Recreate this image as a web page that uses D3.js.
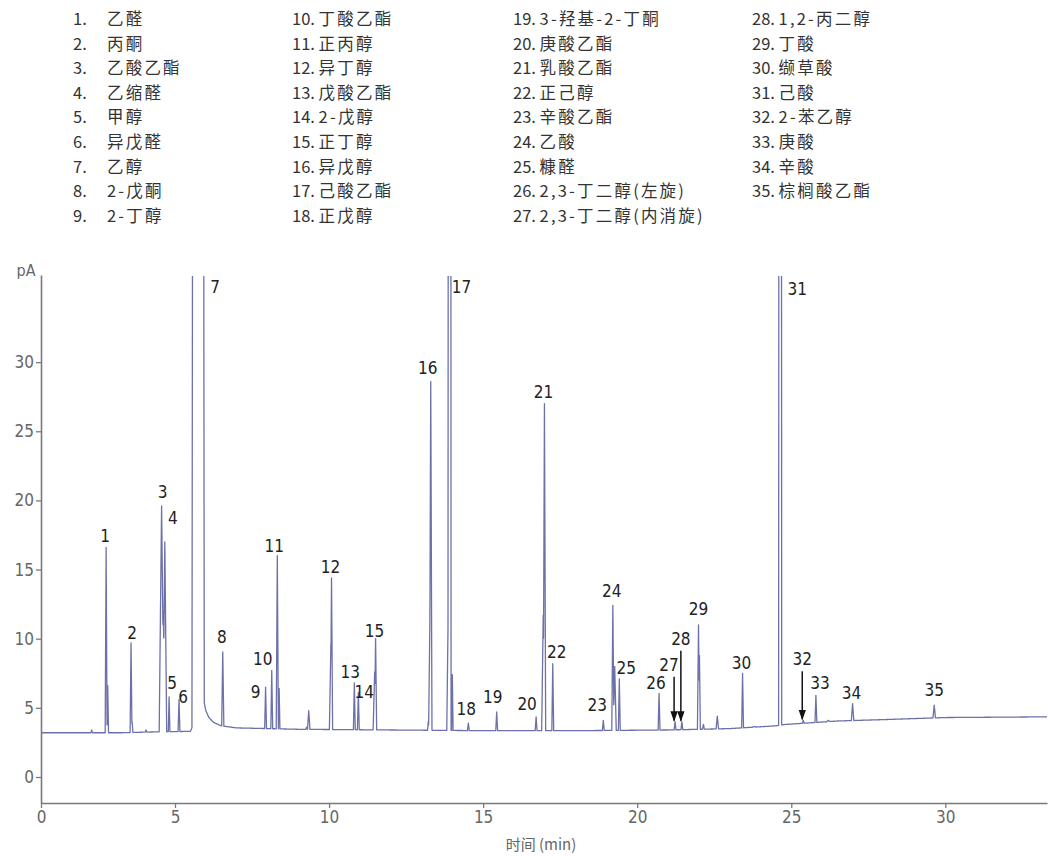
<!DOCTYPE html>
<html><head><meta charset="utf-8">
<script src="https://cdn.jsdelivr.net/npm/d3@7"></script>
<style>
html,body{margin:0;padding:0;background:#fff;}
svg{display:block;}
</style></head>
<body>
<svg id="chart" width="1048" height="856"></svg>
<script>
// ---------------- data ----------------
const compoundNames = ["乙醛","丙酮","乙酸乙酯","乙缩醛","甲醇","异戊醛","乙醇","2-戊酮","2-丁醇",
  "丁酸乙酯","正丙醇","异丁醇","戊酸乙酯","2-戊醇","正丁醇","异戊醇","己酸乙酯","正戊醇",
  "3-羟基-2-丁酮","庚酸乙酯","乳酸乙酯","正己醇","辛酸乙酯","乙酸","糠醛","2,3-丁二醇(左旋)","2,3-丁二醇(内消旋)",
  "1,2-丙二醇","丁酸","缬草酸","己酸","2-苯乙醇","庚酸","辛酸","棕榈酸乙酯"];
const peakNo = d3.range(1, 36);
// retention time (min)
const peakTime = [2.43,3.36,4.50,4.62,4.78,5.13,5.75,6.55,7.94,8.14,8.32,10.08,10.82,10.95,11.51,13.30,13.91,14.52,
  15.44,16.72,16.99,17.26,18.90,19.21,19.42,20.71,21.23,21.45,21.99,23.42,24.64,25.39,25.80,26.99,29.64];
// apex signal (pA); 7, 17, 31 run off scale
const peakHeight = [16.6,9.7,19.6,17.0,5.8,5.6,400,9.05,6.5,7.7,16.0,14.4,6.8,6.1,10.0,28.6,300,3.9,
  4.7,4.35,27.0,8.2,4.1,12.4,7.1,6.05,4.0,4.0,11.0,7.5,300,4.1,5.9,5.3,5.2];
// half width at base (min)
const peakWidth = [0.035,0.035,0.09,0.07,0.03,0.03,0.2,0.035,0.03,0.03,0.035,0.035,0.03,0.03,0.035,0.04,0.05,0.03,
  0.03,0.03,0.04,0.03,0.03,0.035,0.03,0.03,0.03,0.03,0.035,0.03,0.05,0.03,0.03,0.04,0.04];
// peaks whose label points with an arrow
const arrowPeaks = [27, 28, 32];

// minor (unlabelled) peaks & shoulders
const minorTime   = [1.89,2.49,3.40,3.92,4.56,8.38,9.27,9.34,10.06,11.48,13.22,13.28,13.88,14.00,16.95,19.27,22.02,22.15,22.60,23.80,26.20];
const minorHeight = [3.4,6.6,4.0,3.4,12.0,6.4,3.6,4.8,9.7,7.6,4.0,12.7,14.5,7.4,11.7,8.0,8.8,3.8,4.4,3.65,4.1];
const minorWidth  = [0.03,0.03,0.03,0.03,0.09,0.025,0.03,0.04,0.05,0.05,0.025,0.05,0.06,0.025,0.05,0.05,0.03,0.03,0.04,0.05,0.05];

// baseline (incl. ethanol tail)
const baselineTime  = [0,1.5,3.0,4.0,5.5,5.93,6.0,6.1,6.25,6.5,7.0,9,12,15,18,21,23,24.5,24.8,25.5,26.5,28,30,33.3];
const baselineValue = [3.2,3.2,3.2,3.25,3.3,5.6,4.8,4.3,3.95,3.7,3.55,3.45,3.4,3.35,3.35,3.4,3.5,3.7,3.8,3.9,4.05,4.15,4.3,4.35];

const xTicks = [0,5,10,15,20,25,30];
const yTicks = [0,5,10,15,20,25,30];
const xTitle = "时间 (min)";
const yTitle = "pA";

// ---------------- layout ----------------
const labelNudge = [[-1,0],[1,1],[1,-3],[8,-13],[3,-3],[4,8],[17,23],[-1,-4],[-10,16],[-9,-1],[-3,1],[-1,0],[-4,0],[6,10],[-1,3],
  [-3,-2],[12,23],[-2,-3],[-4,-4],[-9,-2],[-1,-1],[4,-1],[-6,-4],[-1,-4],[7,0],[-3,1],[-6,-46],[-1,-72],[0,-5],[-1,1],[17,25],
  [-1,-50],[4,-1],[-1,0],[0,-4]];

const svg = d3.select("#chart");
const x = d3.scaleLinear().domain([0,5,33.3]).range([41,175,1047]);
const y = d3.scaleLinear().domain([-1.88,36.3]).range([803,275]);

const labelFont = "'Liberation Sans Narrow','DejaVu Sans Condensed','Roboto',sans-serif";
const cjkFont = "'Noto Sans CJK SC','Noto Sans',sans-serif";

// ---------------- legend ----------------
const legCols = [73, 292, 513, 752];
const legRows = 9;
compoundNames.forEach((name, i) => {
  const col = Math.floor(i / legRows), row = i % legRows;
  const t = svg.append("text")
    .attr("x", legCols[col]).attr("y", 25 + row * 24.6)
    .attr("font-family", cjkFont).attr("font-size", 16.5).attr("fill", "#333");
  if (col === 0) {
    t.append("tspan").text(peakNo[i] + ".");
    t.append("tspan").attr("x", legCols[0] + 34).attr("letter-spacing", 2.2).text(name);
  } else {
    t.append("tspan").text(peakNo[i] + ". ");
    t.append("tspan").attr("letter-spacing", 2.2).text(name);
  }
});

// ---------------- trace ----------------
const baseAt = d3.scaleLinear().domain(baselineTime).range(baselineValue).clamp(true);
const allPeaks = peakTime.map((t,i)=>({t, h:peakHeight[i], w:peakWidth[i]}))
  .concat(minorTime.map((t,i)=>({t, h:minorHeight[i], w:minorWidth[i]})));
let samples = new Set(baselineTime);
allPeaks.forEach(p => { samples.add(p.t - p.w); samples.add(p.t); samples.add(p.t + p.w); });
d3.range(0, 33.3, 0.005).forEach(t => samples.add(+t.toFixed(3)));
samples = Array.from(samples).filter(t => t >= 0 && t <= 33.3).sort((a,b)=>a-b);
const trace = samples.map(t => {
  const b = baseAt(t);
  let add = 0;
  allPeaks.forEach(p => {
    const d = Math.abs(t - p.t);
    if (d < p.w) add = Math.max(add, (p.h - baseAt(p.t)) * (1 - d / p.w));
  });
  return [t, b + add];
});

svg.append("clipPath").attr("id","plotclip").append("rect")
  .attr("x", 41).attr("y", 276).attr("width", 1007).attr("height", 527);
svg.append("path").datum(trace)
  .attr("clip-path","url(#plotclip)")
  .attr("fill","none").attr("stroke","#6d71aa").attr("stroke-width",1.3).attr("stroke-linejoin","round")
  .attr("d", d3.line().x(d=>x(d[0])).y(d=>y(d[1])));

// ---------------- axes ----------------
const yAxis = svg.append("g").attr("transform","translate(41,0)")
  .call(d3.axisLeft(y).tickValues(yTicks).tickSize(5).tickSizeOuter(0).tickPadding(2));
const xAxis = svg.append("g").attr("transform","translate(0,803)")
  .call(d3.axisBottom(x).tickValues(xTicks).tickSize(5).tickSizeOuter(0).tickPadding(3));
[yAxis, xAxis].forEach(g => {
  g.select(".domain").attr("stroke","#7a7a7a").attr("stroke-width",1.6);
  g.selectAll(".tick line").attr("stroke","#7a7a7a").attr("stroke-width",1.3);
  g.selectAll(".tick text").attr("fill","#666").attr("font-size",17).attr("font-family",labelFont);
});
svg.append("text").attr("x", 541).attr("y", 850).attr("text-anchor","middle")
  .attr("fill","#666").attr("font-size",15).attr("font-family",cjkFont).text(xTitle);
svg.append("text").attr("x", 26).attr("y", 276).attr("text-anchor","middle")
  .attr("fill","#666").attr("font-size",16).attr("font-family",labelFont).text(yTitle);

// ---------------- peak labels ----------------
svg.append("defs").append("marker").attr("id","arrowhead")
  .attr("viewBox","0 0 10 10").attr("refX",9).attr("refY",5)
  .attr("markerWidth",7).attr("markerHeight",7).attr("orient","auto")
  .append("path").attr("d","M0,1.5L10,5L0,8.5z").attr("fill","#111");

peakNo.forEach((n, i) => {
  const apex = Math.min(peakHeight[i], 36.3);
  const px = x(peakTime[i]), py = y(apex);
  const [dx, dy] = labelNudge[i];
  const cx = px + dx, cy = py - 11 + dy;
  svg.append("text").attr("x", cx).attr("y", cy + 6).attr("text-anchor","middle")
    .attr("font-family", labelFont).attr("font-size", 17).attr("fill","#222").text(n);
  if (arrowPeaks.includes(n)) {
    svg.append("line").attr("x1", px - 1).attr("x2", px - 1)
      .attr("y1", cy + 12).attr("y2", py - 1)
      .attr("stroke","#111").attr("stroke-width",1.5).attr("marker-end","url(#arrowhead)");
  }
});
</script>
</body></html>
